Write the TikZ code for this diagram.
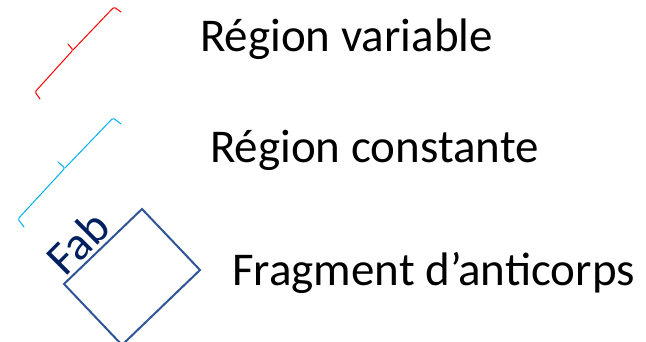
\documentclass[tikz,border=0pt]{standalone}
\usepackage{fontspec}
\setmainfont{Carlito}
\definecolor{varred}{HTML}{FF0000}
\definecolor{constblue}{HTML}{00B0F0}
\definecolor{fabedge}{HTML}{2F5597}
\definecolor{fabtext}{HTML}{002060}
\begin{document}
\begin{tikzpicture}[x=1pt,y=-1pt,
  brace/.style={line width=1pt, rounded corners=1.5pt, line cap=round, line join=round},
  label/.style={anchor=base west, inner sep=0pt, font=\fontsize{47}{56}\selectfont},
  fabbox/.style={draw=fabedge, line width=2pt, line join=miter}]
\useasboundingbox (0,0) rectangle (646,342);
% red brace (variable region)
\draw[brace, varred] (40,99) -- (35,92) -- (73,50) -- (68,44);
\draw[brace, varred] (73,50) -- (114,7) -- (121,12);
% blue brace (constant region)
\draw[brace, constblue] (24,227) -- (18,219) -- (65,168) -- (58,162);
\draw[brace, constblue] (65,168) -- (113,118) -- (121,124);
% Fab box
\coordinate (t) at (142,209);
\coordinate (r) at (200,270);
\coordinate (b) at (122,345);
\coordinate (l) at (64,284);
\draw[fabbox] (t) -- (r) -- (b) -- (l) -- cycle;
\node[anchor=base, inner sep=0pt, rotate=45, text=fabtext, font=\fontsize{47}{56}\selectfont] (fab) at (89,254) {Fab};
% labels
\node[label] (var) at (200,52) {Région variable};
\node[label] (const) at (210,163) {Région constante};
\node[label] (frag) at (232,285) {Fragment d’anticorps};
\end{tikzpicture}
\end{document}
